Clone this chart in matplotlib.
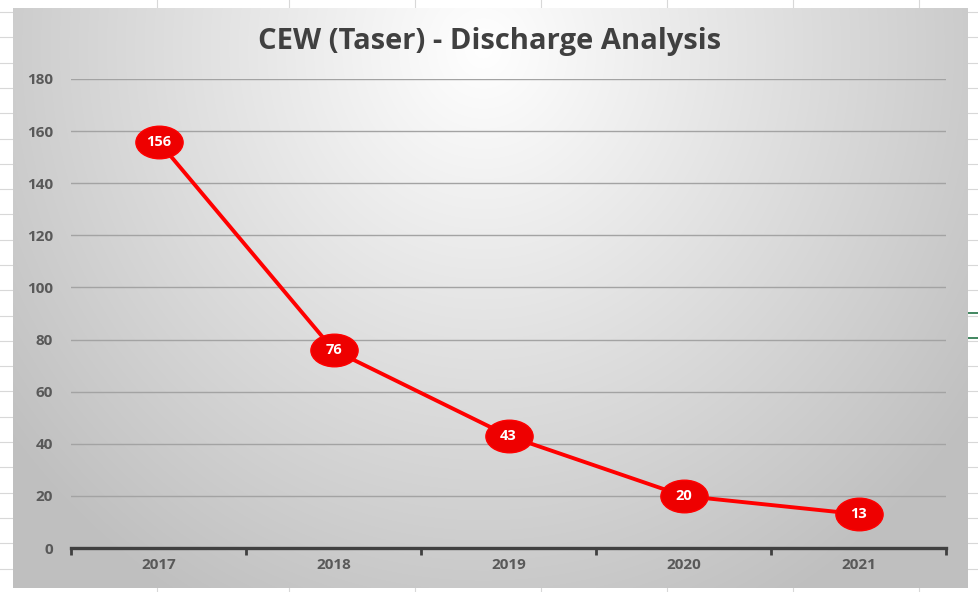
import numpy as np
import matplotlib
matplotlib.use("Agg")
import matplotlib.pyplot as plt
from matplotlib.path import Path
from matplotlib.lines import Line2D

years = ["2017", "2018", "2019", "2020", "2021"]
discharges = [156, 76, 43, 20, 13]
y_ticks = [0, 20, 40, 60, 80, 100, 120, 140, 160, 180]
title = "CEW (Taser) - Discharge Analysis"

W, H = 979, 592
fig = plt.figure(figsize=(W / 100, H / 100), dpi=100)
fig.patch.set_facecolor("white")
FONT = "Open Sans"

def fx(px):
    return px / W

def fy(py):
    return 1 - py / H

# spreadsheet background lines
bg = fig.add_axes([0, 0, 1, 1])
bg.set_xlim(0, W)
bg.set_ylim(H, 0)
bg.axis("off")
for yy in np.arange(12, H, 25.3):
    bg.add_line(Line2D([0, 13], [yy, yy], color="#d8d8d8", lw=0.8))
    bg.add_line(Line2D([968, W], [yy, yy], color="#d8d8d8", lw=0.8))
for xx in [157, 289, 415, 541, 667, 793, 919]:
    bg.add_line(Line2D([xx, xx], [0, 8], color="#d8d8d8", lw=0.8))
    bg.add_line(Line2D([xx, xx], [588, H], color="#d8d8d8", lw=0.8))
bg.add_line(Line2D([968, W], [313, 313], color="#217346", lw=1.2))
bg.add_line(Line2D([968, W], [338, 338], color="#217346", lw=1.2))

# chart area gradient
cl, ct, cr, cb = 13, 8, 968, 588
gax = fig.add_axes([fx(cl), fy(cb), fx(cr - cl), (cb - ct) / H])
gax.axis("off")
gw, gh = cr - cl, cb - ct
xx, yy = np.meshgrid(np.arange(gw), np.arange(gh))
cx, cy = 470, 40
d = np.sqrt(((xx - cx) / 600.0) ** 2 + ((yy - cy) / 640.0) ** 2)
d = np.clip(d, 0, 1)
val = 1.0 - 0.25 * d ** 1.0
img = np.dstack([val, val, val])
gax.imshow(img, aspect="auto", extent=[0, gw, gh, 0], interpolation="bilinear")
gax.set_xlim(0, gw)
gax.set_ylim(gh, 0)

# plot axes
pl, pr, pt, pb = 71, 946, 79, 548
ax = fig.add_axes([fx(pl), fy(pb), fx(pr - pl), (pb - pt) / H])
ax.patch.set_alpha(0)
x = np.arange(len(years))
ax.set_xlim(-0.5, len(years) - 0.5)
ax.set_ylim(0, 180)
ax.set_yticks(y_ticks)
ax.set_yticklabels([str(v) for v in y_ticks], fontfamily=FONT, fontweight="bold",
                   fontsize=11, color="#595959")
ax.set_xticks(x)
ax.set_xticklabels(years, fontfamily=FONT, fontweight="bold", fontsize=11, color="#595959")
ax.tick_params(axis="y", length=0, pad=13)
ax.tick_params(axis="x", length=0, pad=7)
ax.set_xticks(np.arange(-0.5, len(years)), minor=True)
ax.tick_params(axis="x", which="minor", length=5, width=2, color="#404040", direction="out")
for s in ["top", "right", "left"]:
    ax.spines[s].set_visible(False)
ax.spines["bottom"].set_color("#404040")
ax.spines["bottom"].set_linewidth(2.4)
ax.spines["bottom"].set_zorder(5)
for v in y_ticks[1:]:
    ax.axhline(v, color="#a3a3a3", lw=1.0, zorder=1)

circ = Path.unit_circle()
ell = Path(circ.vertices * np.array([1.45, 1.0]), circ.codes)
ax.plot(x, discharges, color="#ff0000", lw=2.8, zorder=3, solid_capstyle="round")
ax.plot(x, discharges, linestyle="none", marker=ell, markersize=34,
        markerfacecolor="#ee0000", markeredgecolor="#ff0000", zorder=4, clip_on=False)
for xi, v in zip(x, discharges):
    ax.text(xi, v, str(v), ha="center", va="center", color="white", fontfamily=FONT,
            fontweight="bold", fontsize=10.5, zorder=6, clip_on=False)

fig.text(fx(490), fy(41), title, ha="center", va="center", fontfamily=FONT,
         fontweight="bold", fontsize=21, color="#404040")

fig.savefig("out.png", dpi=100, facecolor="white")
